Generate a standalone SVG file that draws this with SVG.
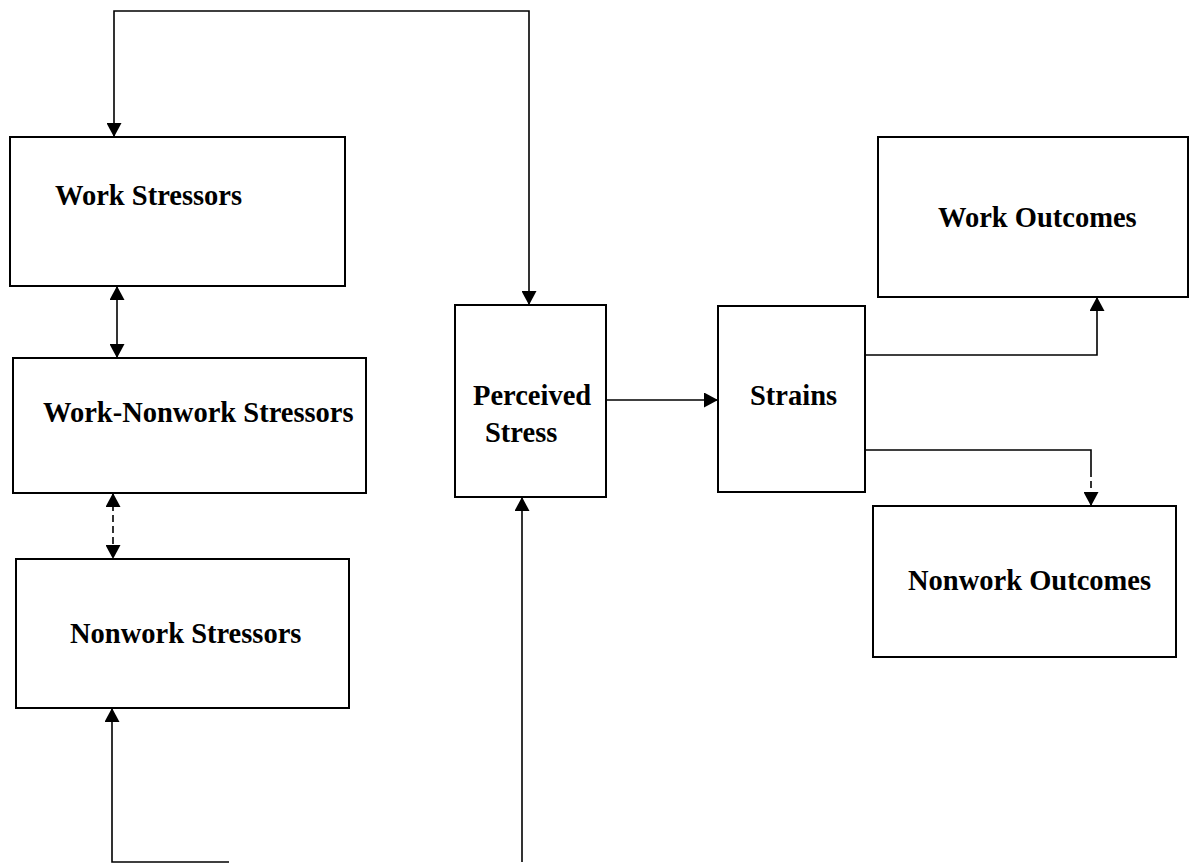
<svg xmlns="http://www.w3.org/2000/svg" width="1202" height="865" viewBox="0 0 1202 865">
<style>
.box{fill:#fff;stroke:#000;stroke-width:2}
.lbl{font-family:"Liberation Serif","Times New Roman",serif;font-weight:bold;font-size:28.5px;fill:#000}
.ln{fill:none;stroke:#000;stroke-width:1.6}
.dash{stroke-dasharray:7 4}
</style>
<defs>
<marker id="ah" markerUnits="userSpaceOnUse" markerWidth="15" markerHeight="15" refX="14" refY="7.5" orient="auto-start-reverse" viewBox="0 0 15 15">
<path d="M0,0 L14,7.5 L0,15 z" fill="#000"/>
</marker>
</defs>
<rect width="1202" height="865" fill="#fff"/>
<g id="connectors">
<path class="ln" d="M114,137 V11 H529 V305" marker-start="url(#ah)" marker-end="url(#ah)"/>
<path class="ln" d="M117,286 V358" marker-start="url(#ah)" marker-end="url(#ah)"/>
<path class="ln dash" d="M113,493 V559" marker-start="url(#ah)" marker-end="url(#ah)"/>
<path class="ln" d="M229,862 H112 V708" marker-end="url(#ah)"/>
<path class="ln" d="M522,862 V497" marker-end="url(#ah)"/>
<path class="ln" d="M606,400 H718" marker-end="url(#ah)"/>
<path class="ln" d="M865,355 H1097 V297" marker-end="url(#ah)"/>
<path class="ln" d="M865,450 H1091 V470"/>
<path class="ln dash" d="M1091,470 V506" marker-end="url(#ah)"/>
</g>
<g id="work-stressors">
<rect class="box" x="10" y="137" width="335" height="149"/>
<text class="lbl" x="55" y="205">Work Stressors</text>
</g>
<g id="work-nonwork-stressors">
<rect class="box" x="13" y="358" width="353" height="135"/>
<text class="lbl" x="43" y="422">Work-Nonwork Stressors</text>
</g>
<g id="nonwork-stressors">
<rect class="box" x="16" y="559" width="333" height="149"/>
<text class="lbl" x="70" y="643">Nonwork Stressors</text>
</g>
<g id="perceived-stress">
<rect class="box" x="455" y="305" width="151" height="192"/>
<text class="lbl" x="473" y="405">Perceived</text>
<text class="lbl" x="485" y="442">Stress</text>
</g>
<g id="strains">
<rect class="box" x="718" y="306" width="147" height="186"/>
<text class="lbl" x="750" y="405">Strains</text>
</g>
<g id="work-outcomes">
<rect class="box" x="878" y="137" width="310" height="160"/>
<text class="lbl" x="938" y="227">Work Outcomes</text>
</g>
<g id="nonwork-outcomes">
<rect class="box" x="873" y="506" width="303" height="151"/>
<text class="lbl" x="908" y="590">Nonwork Outcomes</text>
</g>
</svg>
